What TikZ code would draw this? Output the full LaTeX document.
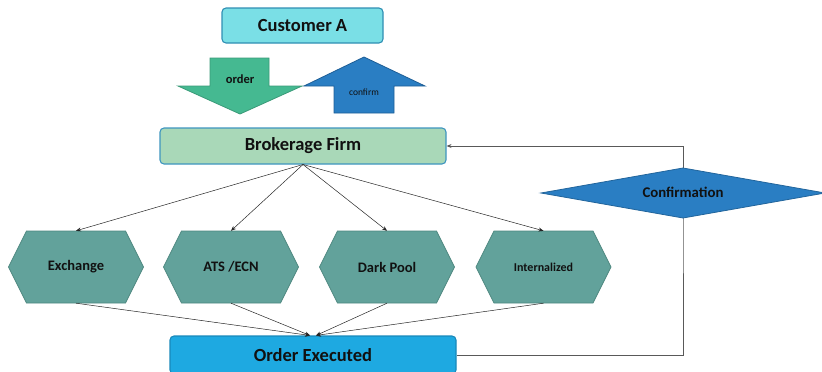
\documentclass[tikz,border=0pt]{standalone}
\usepackage{fontspec}
\setmainfont{Carlito}
\usetikzlibrary{arrows.meta}

\definecolor{custfill}{HTML}{7ADFE6}
\definecolor{custline}{HTML}{2F8FB3}
\definecolor{brokfill}{HTML}{A9D8B8}
\definecolor{brokline}{HTML}{3E95BF}
\definecolor{ordfill}{HTML}{45B991}
\definecolor{ordline}{HTML}{3A9A78}
\definecolor{confill}{HTML}{2A7EC3}
\definecolor{conline}{HTML}{1E5E96}
\definecolor{hexfill}{HTML}{62A29B}
\definecolor{hexline}{HTML}{4E8880}
\definecolor{execfill}{HTML}{1EA9E1}
\definecolor{execline}{HTML}{1988BA}
\definecolor{txt}{HTML}{111111}

\tikzset{
  roundbox/.style={rounded corners=4pt, line width=1.1pt, inner sep=0pt,
    font=\bfseries\fontsize{18.5}{20}\selectfont, text=txt},
  hexshape/.style={fill=hexfill, draw=hexline, line width=0.8pt},
  hexlabel/.style={inner sep=0pt, minimum width=135pt, minimum height=72pt, text=txt},
  blockarrow/.style={line width=0.8pt},
  link/.style={draw=black!85, line width=0.5pt, -{Stealth[length=5pt,width=4pt]}},
  backlink/.style={draw=black!65, line width=0.8pt, -{Stealth[length=5pt,width=4pt]}}
}

\begin{document}
\begin{tikzpicture}[x=1pt, y=-1pt]
  \useasboundingbox (0,0) rectangle (822,372);

  % top and middle boxes
  \node[roundbox, fill=custfill, draw=custline, minimum width=161pt, minimum height=35pt]
    (cust) at (302.5,25.5) {Customer A};
  \node[roundbox, fill=brokfill, draw=brokline, minimum width=286pt, minimum height=36pt]
    (brok) at (303,146) {Brokerage Firm};
  \node[roundbox, fill=execfill, draw=execline, minimum width=286pt, minimum height=38pt]
    (exec) at (313,355) {Order Executed};

  % order / confirm block arrows
  \filldraw[blockarrow, fill=ordfill, draw=ordline]
    (210,58) -- (269,58) -- (269,86) -- (302,86) -- (240,114) -- (178,86) -- (210,86) -- cycle;
  \node[inner sep=0pt, text=txt, font=\bfseries\fontsize{12.5}{14}\selectfont] (ordtxt) at (240,79) {order};
  \filldraw[blockarrow, fill=confill, draw=conline]
    (364,57) -- (425,86) -- (394,86) -- (394,113) -- (334,113) -- (334,86) -- (304,86) -- cycle;
  \node[inner sep=0pt, text=txt, font=\fontsize{9.5}{11}\selectfont] (conftxt) at (364,92) {confirm};

  % execution venues
  \foreach \nm/\cx/\lbl/\fs in {ex/76/Exchange/14.5, ats/231/{ATS /ECN}/14.5, dark/387/{Dark Pool}/14.5, intl/543.5/Internalized/12} {
    \filldraw[hexshape] (\cx-67.5,267) -- (\cx-49.5,231) -- (\cx+49.5,231)
      -- (\cx+67.5,267) -- (\cx+49.5,303) -- (\cx-49.5,303) -- cycle;
    \node[hexlabel, font=\bfseries\fontsize{\fs}{\fs}\selectfont] (\nm) at (\cx,267) {\lbl};
  }

  % routing from the broker to each venue
  \coordinate (brokout) at (303,164.5);
  \foreach \nm in {ex, ats, dark, intl}
    \draw[link] (brokout) -- (\nm.north);

  % fills reported to order execution
  \draw[link] (ex.south) -- ([xshift=-3pt]exec.north);
  \draw[link] (ats.south) -- ([xshift=-3pt]exec.north);
  \draw[link] (dark.south) -- ([xshift=3pt]exec.north);
  \draw[link] (intl.south) -- ([xshift=3pt]exec.north);

  % confirmation loop back to the broker
  \coordinate (confc) at (683,193);
  \draw[backlink] (exec.east) -| (confc) |- (brok.east);

  \filldraw[blockarrow, fill=confill, draw=confill!80!black]
    (541,193) -- (683,168) -- (825,193) -- (683,218) -- cycle;
  \node[inner sep=0pt, text=txt, font=\bfseries\fontsize{14.8}{16}\selectfont] (conf) at (683,192) {Confirmation};
\end{tikzpicture}
\end{document}
